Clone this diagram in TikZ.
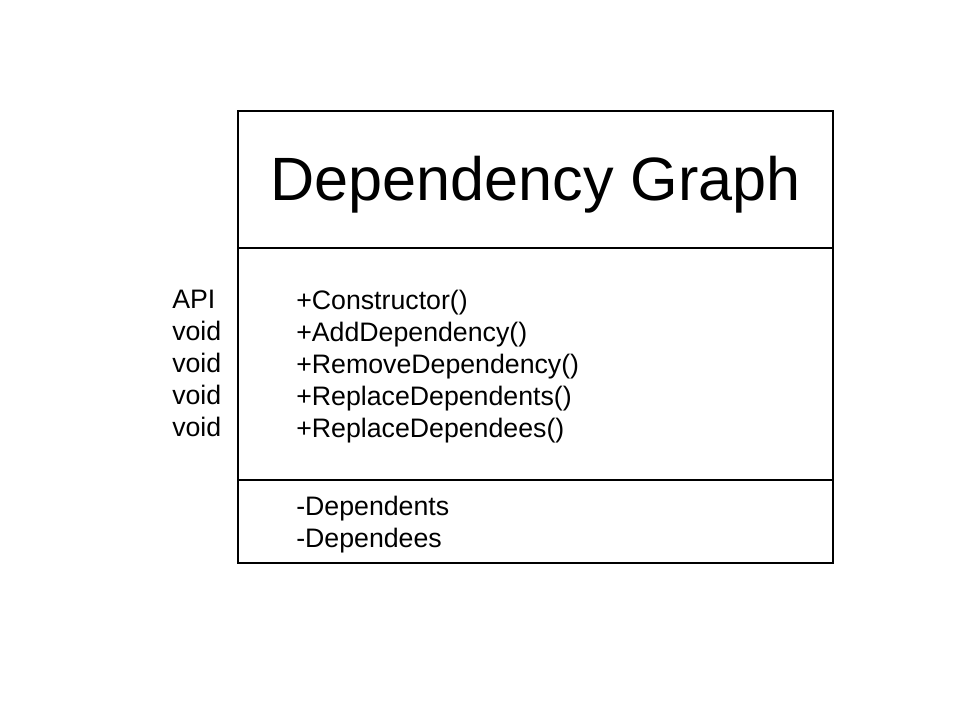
\documentclass[tikz,border=0pt]{standalone}
\usepackage{fontspec}
\setmainfont{Liberation Sans}
\usepackage{xcolor}
\usetikzlibrary{positioning}

\begin{document}
\begin{tikzpicture}[
    x=0.025cm, y=-0.025cm,
    caixa/.style={draw, line width=1.4pt, minimum width=14.875cm, inner sep=0pt},
    titulo/.style={font=\fontsize{43.5}{50}\selectfont},
    texto/.style={align=left, inner sep=0pt, anchor=north west, font=\fontsize{19}{22.7}\selectfont}
]
    \useasboundingbox (0,0) rectangle (960,720);

    \node[caixa, minimum height=3.425cm] (cabeca) at (535.5,179.5) {};
    \node[caixa, minimum height=5.8cm] (metodos) at (535.5,364) {};
    \node[caixa, minimum height=2.075cm] (campos) at (535.5,521.5) {};

    \node[titulo] (nome) at (535.5,185) {Dependency Graph};

    \node[texto] (tipos) at (172,290) {API\\void\\void\\void\\void};
    \node[texto] (lista) at (296,290) {+Constructor()\\+AddDependency()\\+RemoveDependency()\\+ReplaceDependents()\\+ReplaceDependees()};
    \node[texto] (atributos) at (296,496) {-Dependents\\-Dependees};
\end{tikzpicture}
\end{document}
